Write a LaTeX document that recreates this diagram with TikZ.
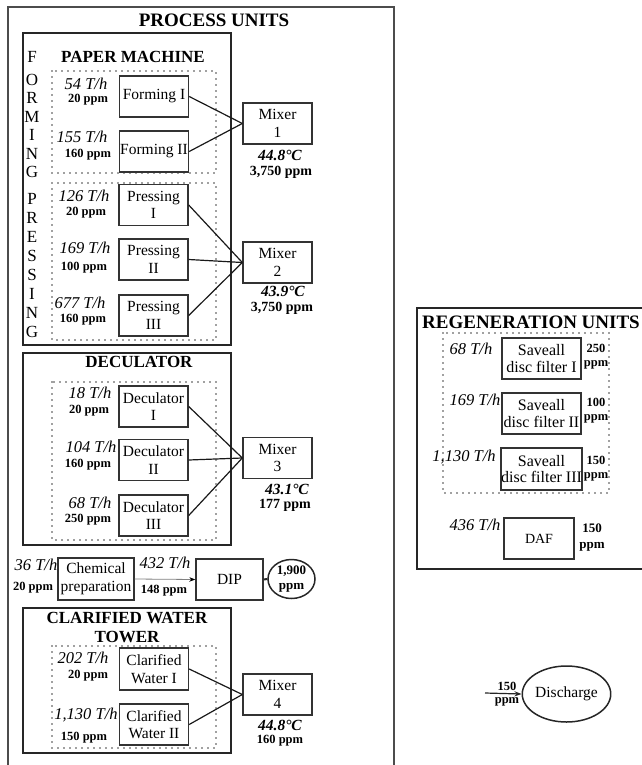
\documentclass[tikz,border=0pt]{standalone}
\usepackage{fontspec}
\setmainfont{Liberation Serif}
\usetikzlibrary{arrows.meta,shapes.geometric}
\newcommand\myfs[2]{\fontsize{#1pt}{#2pt}\selectfont}
\begin{document}
\begin{tikzpicture}[x=1pt,y=-1pt,
  unitbox/.style={draw=black!80, line width=1.4pt, rectangle, inner sep=0pt, align=center,
    font=\myfs{15.5}{17.5}, minimum width=69pt, minimum height=41pt},
  outerframe/.style={draw=black!70, line width=1.8pt},
  secframe/.style={draw=black!85, line width=2pt},
  dotframe/.style={draw=black!75, line width=1.7pt, line cap=round, dash pattern=on 0pt off 6pt},
  conn/.style={draw=black!90, line width=1.2pt},
  flowlab/.style={inner sep=0pt, font=\myfs{16.5}{18}\itshape},
  ppmlab/.style={inner sep=0pt, font=\myfs{12.5}{14}\bfseries, align=center},
  templab/.style={inner sep=0pt, font=\myfs{15.5}{17}\bfseries\itshape},
  mixppm/.style={inner sep=0pt, font=\myfs{14}{16}\bfseries},
  bigtitle/.style={inner sep=0pt, font=\myfs{19}{20}\bfseries, align=center},
  sectitle/.style={inner sep=0pt, font=\myfs{17}{19}\bfseries, align=center},
  vletter/.style={inner sep=0pt, font=\myfs{17}{18}},
]
\useasboundingbox (0,0) rectangle (641,765);

% frames
\draw[outerframe] (8,7) rectangle (394,772);
\draw[secframe] (23,33) rectangle (231,345);
\draw[secframe] (23,353) rectangle (231,545);
\draw[secframe] (23,608) rectangle (231,753);
\draw[secframe] (417,308) rectangle (652,569);
\draw[dotframe] (52,71) rectangle (216,173);
\draw[dotframe] (52,183) rectangle (216,340);
\draw[dotframe] (52,382) rectangle (216,540);
\draw[dotframe] (52,646) rectangle (216,748);
\draw[dotframe] (443,333) rectangle (609,493);

% titles
\node[bigtitle] (tproc) at (214,20) {PROCESS UNITS};
\node[sectitle] (tpm) at (133,57) {PAPER MACHINE};
\node[sectitle] (tdec) at (139,362) {DECULATOR};
\node[sectitle] (tcw) at (127,627) {CLARIFIED WATER\\TOWER};
\node[bigtitle] (treg) at (531,322) {REGENERATION UNITS};

% vertical words
\node[vletter] (formF) at (32,57) {F};
\foreach \l [count=\i from 0] in {O,R,M,I,N,G}
  \node[vletter] (form\i) at (32,{80+18.4*\i}) {\l};
\foreach \l [count=\i from 0] in {P,R,E,S,S,I,N,G}
  \node[vletter] (press\i) at (32,{199+19*\i}) {\l};

% paper machine units
\node[unitbox] (f1) at (154,96.5) {Forming I};
\node[unitbox] (f2) at (154,151.5) {Forming II};
\node[unitbox] (m1) at (277.5,123.5) {Mixer\\1};
\node[unitbox] (p1) at (153.5,205) {Pressing\\I};
\node[unitbox] (p2) at (153.5,259.5) {Pressing\\II};
\node[unitbox] (p3) at (153.5,315.5) {Pressing\\III};
\node[unitbox] (m2) at (277.5,262.5) {Mixer\\2};
\draw[conn] (f1.east) -- (m1.west);
\draw[conn] (f2.east) -- (m1.west);
\draw[conn] (p1.east) -- (m2.west);
\draw[conn] (p2.east) -- (m2.west);
\draw[conn] (p3.east) -- (m2.west);

\node[flowlab] (lf1) at (86,84) {54 T/h};
\node[ppmlab] (lf1p) at (88,100) {20 ppm};
\node[flowlab] (lf2) at (82,137) {155 T/h};
\node[ppmlab] (lf2p) at (88,155) {160 ppm};
\node[flowlab] (lp1) at (84,196) {126 T/h};
\node[ppmlab] (lp1p) at (86,213) {20 ppm};
\node[flowlab] (lp2) at (85,248) {169 T/h};
\node[ppmlab] (lp2p) at (84,268) {100 ppm};
\node[flowlab] (lp3) at (80,303) {677 T/h};
\node[ppmlab] (lp3p) at (83,320) {160 ppm};
\node[templab] (m1t) at (280,155) {44.8°C};
\node[mixppm] (m1p) at (281,172) {3,750 ppm};
\node[templab] (m2t) at (283,291.5) {43.9°C};
\node[mixppm] (m2p) at (282,308.5) {3,750 ppm};

% deculator
\node[unitbox] (d1) at (153.5,406.5) {Deculator\\I};
\node[unitbox] (d2) at (153.5,460) {Deculator\\II};
\node[unitbox] (d3) at (153.5,515.5) {Deculator\\III};
\node[unitbox] (m3) at (277.5,458) {Mixer\\3};
\draw[conn] (d1.east) -- (m3.west);
\draw[conn] (d2.east) -- (m3.west);
\draw[conn] (d3.east) -- (m3.west);
\node[flowlab] (ld1) at (90,393) {18 T/h};
\node[ppmlab] (ld1p) at (89,411) {20 ppm};
\node[flowlab] (ld2) at (91,447) {104 T/h};
\node[ppmlab] (ld2p) at (88,465) {160 ppm};
\node[flowlab] (ld3) at (90,503) {68 T/h};
\node[ppmlab] (ld3p) at (88,520) {250 ppm};
\node[templab] (m3t) at (287,489) {43.1°C};
\node[mixppm] (m3p) at (285,505) {177 ppm};

% chemical preparation and DIP
\node[unitbox, minimum width=76pt, minimum height=42pt] (chem) at (96,579) {Chemical\\preparation};
\node[unitbox, minimum width=67pt] (dip) at (229.5,579.5) {DIP};
\node[ellipse, draw=black!85, line width=1.5pt, inner sep=0pt, minimum width=47pt, minimum height=39pt,
  align=center, font=\myfs{13}{14.5}\bfseries] (c1900) at (291.5,579) {1,900\\ppm};
\draw[draw=black!50, line width=0.8pt, -{Stealth[black,length=6pt,width=4.5pt]}] (chem.east) -- (dip.west);
\draw[draw=black!85, line width=2pt] (dip.east) -- (c1900.west);
\node[flowlab] (lch) at (36,565) {36 T/h};
\node[ppmlab] (lchp) at (33,588) {20 ppm};
\node[flowlab] (ldip) at (165,563) {432 T/h};
\node[ppmlab] (ldipp) at (164,591) {148 ppm};

% clarified water tower
\node[unitbox, minimum height=42pt] (cw1) at (154,669) {Clarified\\Water I};
\node[unitbox] (cw2) at (154,724.5) {Clarified\\Water II};
\node[unitbox] (m4) at (277.5,694.5) {Mixer\\4};
\draw[conn] (cw1.east) -- (m4.west);
\draw[conn] (cw2.east) -- (m4.west);
\node[flowlab] (lcw1) at (83,658) {202 T/h};
\node[ppmlab] (lcw1p) at (88,676) {20 ppm};
\node[flowlab] (lcw2) at (86,715) {1,130 T/h};
\node[ppmlab] (lcw2p) at (84,738) {150 ppm};
\node[templab] (m4t) at (280,725) {44.8°C};
\node[ppmlab] (m4p) at (280,741) {160 ppm};

% regeneration units
\node[unitbox, minimum width=79pt, font=\myfs{16}{16.5}] (s1) at (541.5,358.5) {Saveall\\disc filter I};
\node[unitbox, minimum width=79pt, font=\myfs{16}{16.5}] (s2) at (541.5,413.5) {Saveall\\disc filter II};
\node[unitbox, minimum width=79pt, minimum height=42pt, font=\myfs{16}{16.5}] (s3) at (541.5,469) {Saveall\\disc filter III};
\node[unitbox, minimum width=70pt, font=\myfs{14}{16}] (daf) at (539,538.5) {DAF};
\node[flowlab] (ls1) at (471,349) {68 T/h};
\node[ppmlab] (ls1p) at (596,357) {250\\ppm};
\node[flowlab] (ls2) at (475,400) {169 T/h};
\node[ppmlab] (ls2p) at (596,410.5) {100\\ppm};
\node[flowlab] (ls3) at (464,457) {1,130 T/h};
\node[ppmlab] (ls3p) at (596,469) {150\\ppm};
\node[flowlab] (ldaf) at (475,525) {436 T/h};
\node[ppmlab, font=\myfs{13}{16}\bfseries] (ldafp) at (592,538) {150\\ppm};

% discharge
\node[ellipse, draw=black!85, line width=1.5pt, inner sep=0pt, minimum width=75pt, minimum height=56pt,
  font=\myfs{15.5}{17}] (disch) at (566.5,694) {Discharge};
\coordinate (dsrc) at (485,693);
\draw[draw=black!85, line width=1.2pt, -{Stealth[length=7pt,width=5pt]}] (dsrc) -- (disch.west);
\node[ppmlab] (ldis1) at (507,686) {150};
\node[ppmlab] (ldis2) at (507,702) {ppm};
\end{tikzpicture}
\end{document}
